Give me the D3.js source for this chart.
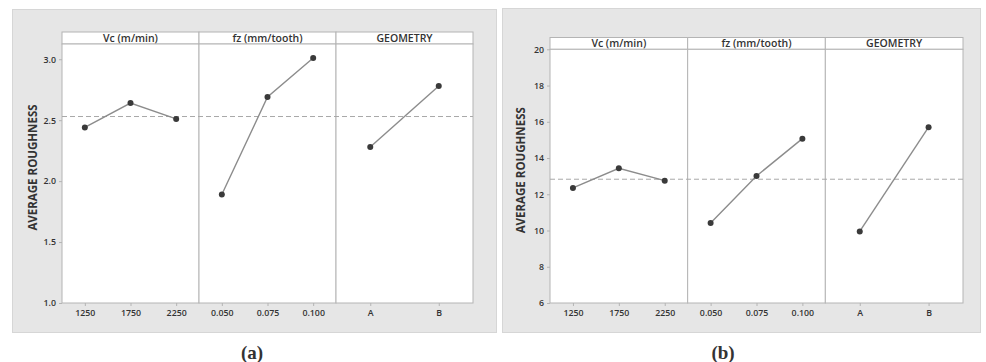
<!DOCTYPE html>
<html>
<head>
<meta charset="utf-8">
<script src="https://cdn.jsdelivr.net/npm/d3@7.9.0/dist/d3.min.js"></script>
<style>
  body { margin: 0; background: #fff; }
  svg { display: block; }
  text { font-family: "Open Sans", "Noto Sans", sans-serif; fill: #333; }
</style>
</head>
<body>
<svg id="chart" width="986" height="362"></svg>
<script>
// factors shown as the three strip panels
const factors = ["Vc (m/min)", "fz (mm/tooth)", "GEOMETRY"];
const vcLevels = ["1250", "1750", "2250"];
const fzLevels = ["0.050", "0.075", "0.100"];
const geoLevels = ["A", "B"];

// chart (a) main effects
const aVc = [2.44, 2.64, 2.51];
const aFz = [1.89, 2.69, 3.01];
const aGeo = [2.28, 2.78];
const aMean = 2.53;
const aTicks = [1.0, 1.5, 2.0, 2.5, 3.0];

// chart (b) main effects
const bVc = [12.35, 13.43, 12.75];
const bFz = [10.42, 13.01, 15.07];
const bGeo = [9.95, 15.70];
const bMean = 12.83;
const bTicks = [6, 8, 10, 12, 14, 16, 18, 20];

const svg = d3.select("#chart");

function drawChart(cfg) {
    let g = svg.append("g");

    // grey background box
    g.append("rect")
        .attr("x", cfg.box[0] + 0.5).attr("y", cfg.box[1] + 0.5)
        .attr("width", cfg.box[2] - cfg.box[0]).attr("height", cfg.box[3] - cfg.box[1])
        .attr("fill", "#e6e6e6").attr("stroke", "#d6d6d6");

    let yScale = d3.scaleLinear().domain(cfg.yDomain).range([cfg.bottom, cfg.plotTop]);
    let panelX = d3.scaleBand().domain(factors).range([cfg.left, cfg.right]);
    let pw = panelX.bandwidth();

    // strip boxes and panel backgrounds
    factors.forEach((f, i) => {
        let x0 = panelX(f);
        g.append("rect")
            .attr("x", x0).attr("y", cfg.stripTop)
            .attr("width", pw).attr("height", cfg.plotTop - cfg.stripTop)
            .attr("fill", "#fff").attr("stroke", "#b4b4b4");
        g.append("text")
            .attr("x", x0 + pw / 2).attr("y", (cfg.stripTop + cfg.plotTop) / 2 + 3.8)
            .attr("text-anchor", "middle")
            .attr("font-size", "10.5px").attr("font-weight", 600)
            .text(f);
        g.append("rect")
            .attr("x", x0).attr("y", cfg.plotTop)
            .attr("width", pw).attr("height", cfg.bottom - cfg.plotTop)
            .attr("fill", "#fff").attr("stroke", "#b4b4b4");
    });

    // y axis
    let yAxis = g.append("g")
        .attr("transform", `translate(${cfg.left},0)`)
        .call(d3.axisLeft(yScale).tickValues(cfg.ticks).tickFormat(cfg.fmt).tickSize(3).tickPadding(3));
    yAxis.select(".domain").remove();
    yAxis.selectAll("line").attr("stroke", "#b4b4b4");
    yAxis.selectAll("text").attr("font-size", "8.8px").attr("fill", "#3a3a3a")
        .attr("font-weight", 600)
        .style("font-family", '"Open Sans", sans-serif');

    g.append("text")
        .attr("transform", "rotate(-90)")
        .attr("x", -(cfg.stripTop + cfg.bottom) / 2)
        .attr("y", cfg.left - 25)
        .attr("text-anchor", "middle")
        .attr("font-size", "11.5px").attr("font-weight", 700)
        .text("AVERAGE ROUGHNESS");

    // grand mean reference line
    g.append("line")
        .attr("x1", cfg.left).attr("x2", cfg.right)
        .attr("y1", yScale(cfg.mean)).attr("y2", yScale(cfg.mean))
        .attr("stroke", "#a8a8a8").attr("stroke-width", 1)
        .attr("stroke-dasharray", "5,3");

    let line = d3.line().x(d => d.x).y(d => yScale(d.v));

    cfg.series.forEach((s, i) => {
        let x0 = panelX(factors[i]);
        let xs = d3.scalePoint().domain(s.levels).range([x0, x0 + pw]).padding(0.5);

        let xAxis = g.append("g")
            .attr("transform", `translate(0,${cfg.bottom})`)
            .call(d3.axisBottom(xs).tickSize(3).tickPadding(4));
        xAxis.select(".domain").remove();
        xAxis.selectAll("line").attr("stroke", "#b4b4b4");
        xAxis.selectAll("text").attr("font-size", "8.8px").attr("fill", "#3a3a3a")
            .attr("font-weight", 600)
            .style("font-family", '"Open Sans", sans-serif');

        let pts = s.values.map((v, j) => ({ x: xs(s.levels[j]), v: v }));
        g.append("path")
            .datum(pts)
            .attr("fill", "none")
            .attr("stroke", "#8c8c8c")
            .attr("stroke-width", 1.4)
            .attr("d", line);
        g.selectAll(null)
            .data(pts)
            .enter().append("circle")
            .attr("cx", d => d.x)
            .attr("cy", d => yScale(d.v))
            .attr("r", 3)
            .attr("fill", "#3a3a3a");
    });

    g.append("text")
        .attr("x", cfg.captionX).attr("y", 359)
        .attr("text-anchor", "middle")
        .style("font-family", '"Liberation Serif", "DejaVu Serif", serif')
        .attr("font-size", "19px").attr("font-weight", 700)
        .attr("fill", "#222")
        .text(cfg.caption);
}

drawChart({
    box: [12, 9, 496, 332],
    left: 62, right: 473,
    stripTop: 32, plotTop: 44, bottom: 303,
    yDomain: [1.0, 3.125],
    ticks: aTicks, fmt: d3.format(".1f"),
    mean: aMean,
    series: [
        { levels: vcLevels, values: aVc },
        { levels: fzLevels, values: aFz },
        { levels: geoLevels, values: aGeo }
    ],
    caption: "(a)", captionX: 252
});

drawChart({
    box: [502, 8, 980, 332],
    left: 550, right: 963,
    stripTop: 37.5, plotTop: 49.3, bottom: 303,
    yDomain: [6, 20],
    ticks: bTicks, fmt: d3.format("d"),
    mean: bMean,
    series: [
        { levels: vcLevels, values: bVc },
        { levels: fzLevels, values: bFz },
        { levels: geoLevels, values: bGeo }
    ],
    caption: "(b)", captionX: 723
});
</script>
</body>
</html>
